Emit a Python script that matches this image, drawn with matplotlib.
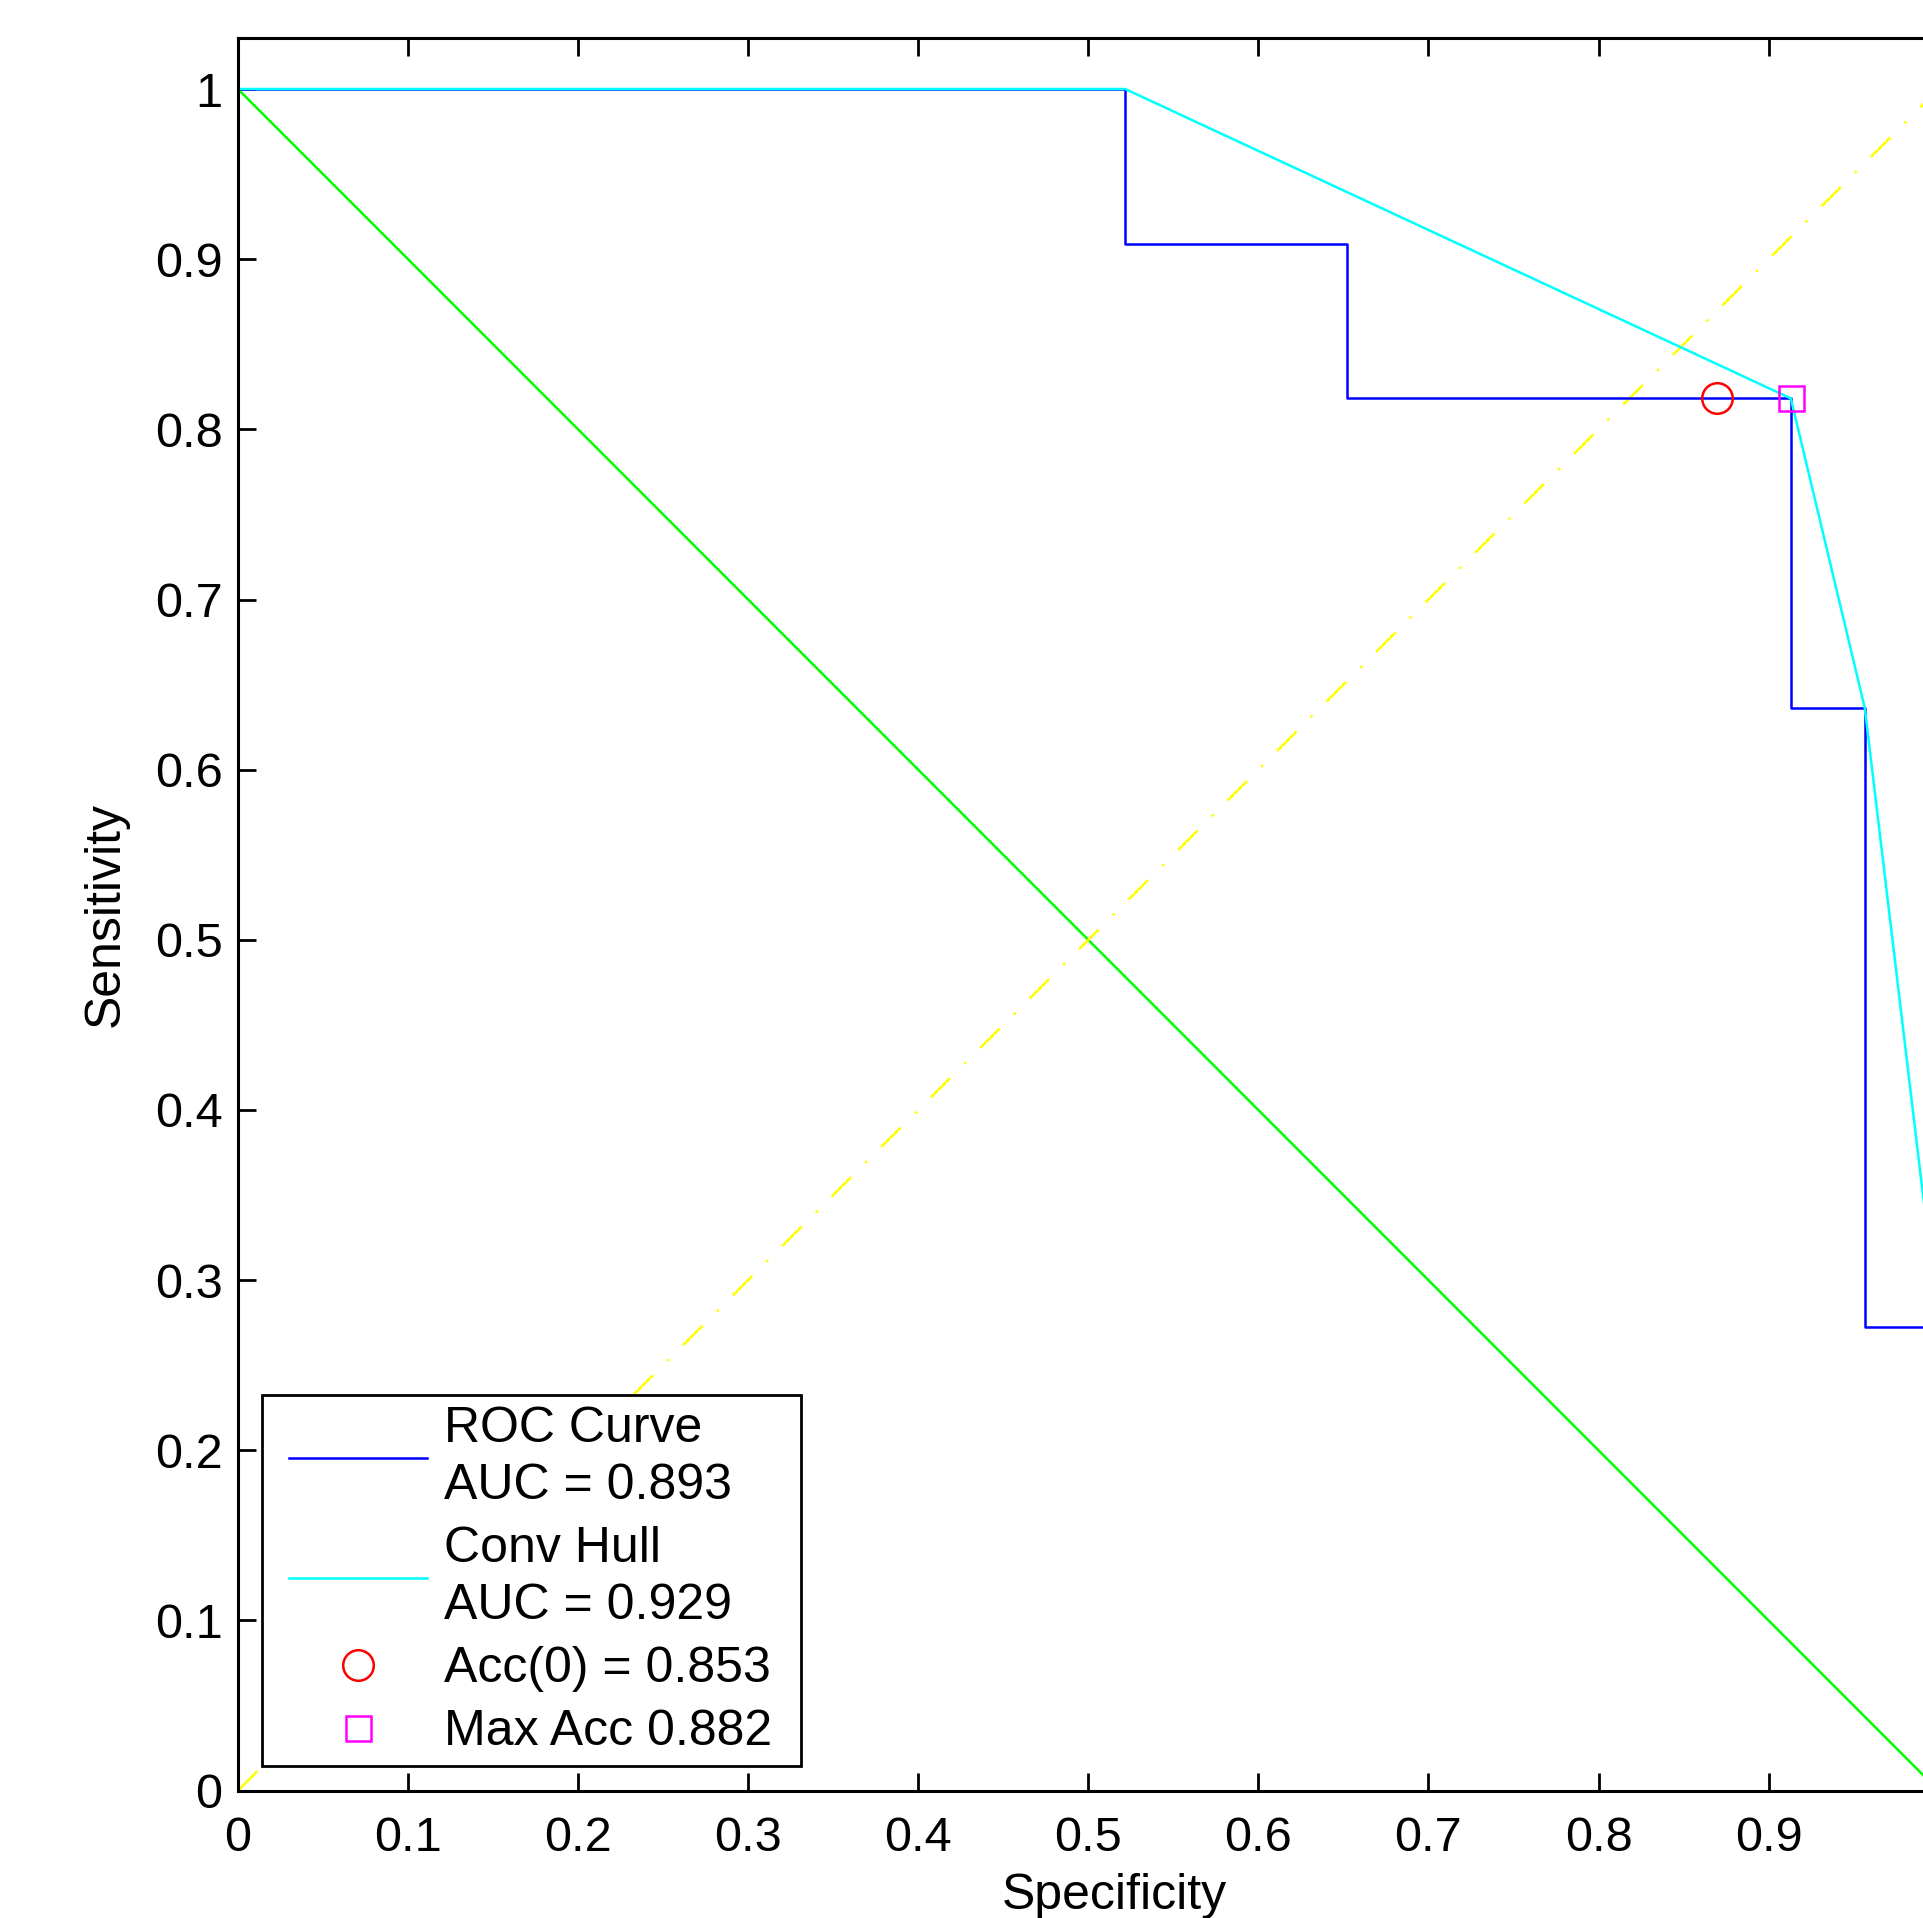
import matplotlib
matplotlib.use("Agg")
import matplotlib.pyplot as plt
from matplotlib.lines import Line2D
from matplotlib.legend_handler import HandlerLine2D

# ROC step curve (specificity, sensitivity), 23 negatives / 11 positives
roc_spec = [0, 12/23, 12/23, 15/23, 15/23, 21/23, 21/23, 22/23, 22/23, 1, 1]
roc_sens = [1, 1, 10/11, 10/11, 9/11, 9/11, 7/11, 7/11, 3/11, 3/11, 0]

# convex hull of the ROC points
hull_spec = [0, 12/23, 21/23, 22/23, 1, 1]
hull_sens = [1, 1, 9/11, 7/11, 3/11, 0]

# operating points
acc0_point = (20/23, 9/11)
maxacc_point = (21/23, 9/11)

roc_label = "ROC Curve\nAUC = 0.893"
hull_label = "Conv Hull\nAUC = 0.929"
acc0_label = "Acc(0) = 0.853"
maxacc_label = "Max Acc 0.882"

x_ticks = [0, 0.1, 0.2, 0.3, 0.4, 0.5, 0.6, 0.7, 0.8, 0.9]
x_tick_labels = ["0", "0.1", "0.2", "0.3", "0.4", "0.5", "0.6", "0.7", "0.8", "0.9"]
y_ticks = [0, 0.1, 0.2, 0.3, 0.4, 0.5, 0.6, 0.7, 0.8, 0.9, 1]
y_tick_labels = ["0", "0.1", "0.2", "0.3", "0.4", "0.5", "0.6", "0.7", "0.8", "0.9", "1"]

plt.rcParams["font.family"] = ["Liberation Sans", "DejaVu Sans"]

fig = plt.figure(figsize=(19.23, 19.18), dpi=100)
ax = fig.add_axes([0.1237, 0.0664, 0.911, 0.9138])

lw = 1.8
ax.plot([0, 1], [1, 0], color="#00ff00", lw=lw)
ax.plot([0, 1], [0, 1], color="#ffff00", lw=lw, linestyle=(0, (11, 8, 1, 8)))
roc_line, = ax.plot(roc_spec, roc_sens, color="#0000ff", lw=lw)
hull_line, = ax.plot(hull_spec, hull_sens, color="#00ffff", lw=lw)
acc0_mark, = ax.plot([acc0_point[0]], [acc0_point[1]], "o", ms=22, mfc="none",
                     mec="#ff0000", mew=1.8, linestyle="none")
maxacc_mark, = ax.plot([maxacc_point[0]], [maxacc_point[1]], "s", ms=18, mfc="none",
                       mec="#ff00ff", mew=1.8, linestyle="none")

ax.set_xlim(0, 1.03)
ax.set_ylim(0, 1.03)
ax.set_xticks(x_ticks)
ax.set_xticklabels(x_tick_labels)
ax.set_yticks(y_ticks)
ax.set_yticklabels(y_tick_labels)

for s in ax.spines.values():
    s.set_linewidth(2.2)
ax.tick_params(direction="in", length=13, width=2.0, top=True, right=True,
               labelsize=35)
ax.tick_params(axis="x", pad=18)
ax.tick_params(axis="y", pad=11)

ax.set_xlabel("Specificity", fontsize=36, labelpad=9)
ax.set_ylabel("Sensitivity", fontsize=36, labelpad=19)

# legend box spans a fixed width in the lower left corner
leg = ax.legend([roc_line, hull_line, acc0_mark, maxacc_mark],
                [roc_label, hull_label, acc0_label, maxacc_label],
                loc="lower left", bbox_to_anchor=(0.014, 0.014, 0.3074, 0.2),
                mode="expand", borderaxespad=0, fontsize=36, handlelength=3.07,
                handletextpad=0.34, borderpad=0.22, labelspacing=0.34,
                fancybox=False, framealpha=1, edgecolor="black",
                handler_map={Line2D: HandlerLine2D(xpad=0.32)})
leg.get_frame().set_linewidth(2.0)
for t in leg.get_texts():
    t.set_linespacing(1.31)

fig.savefig("out.png", dpi=100)
